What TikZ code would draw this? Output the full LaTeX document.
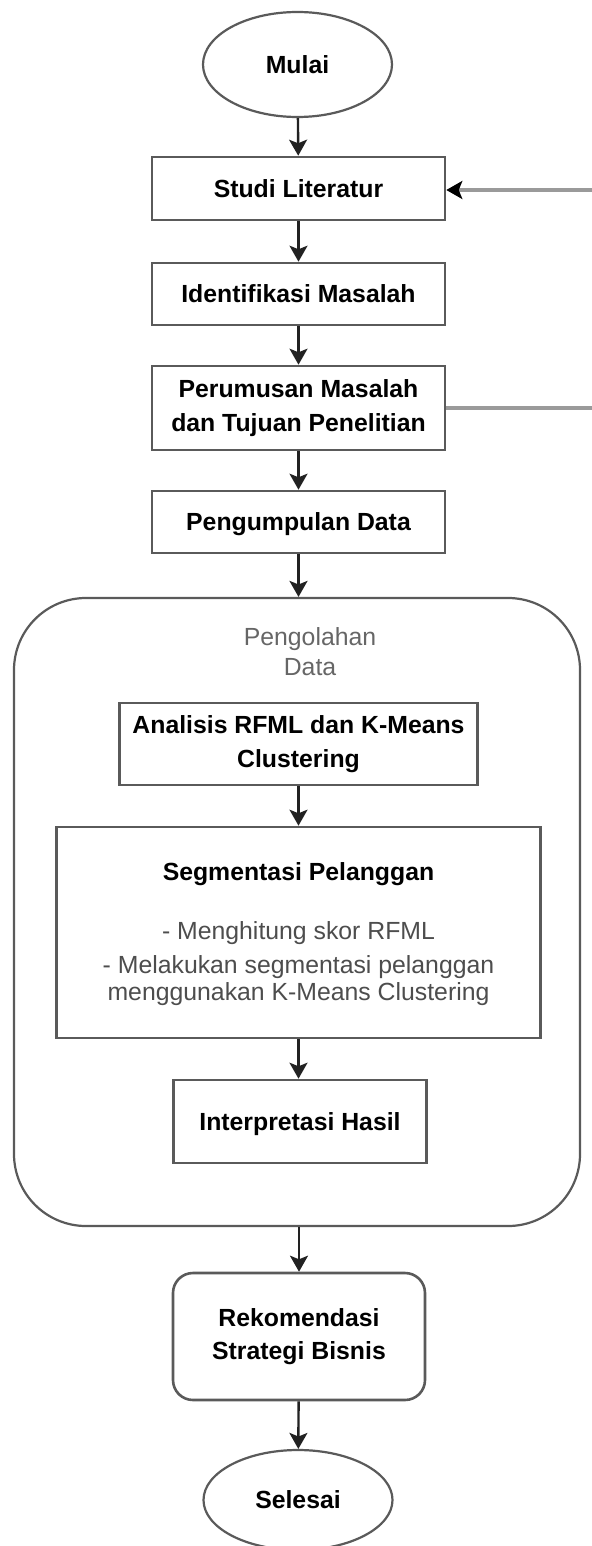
\documentclass[tikz,border=0pt]{standalone}
\usepackage{fontspec}
\setmainfont{Liberation Sans}
\usetikzlibrary{shapes.geometric,arrows.meta}
\definecolor{bord}{HTML}{5A5A5A}
\definecolor{arr}{HTML}{222222}
\definecolor{fbc}{HTML}{9A9A9A}
\definecolor{lbl}{HTML}{666666}
\definecolor{bul}{HTML}{4D4D4D}
\begin{document}
\begin{tikzpicture}[x=0.5pt,y=-0.5pt,
  bfont/.style={font=\fontsize{12.4}{16.75}\selectfont\bfseries},
  boxbase/.style={draw=bord, line width=1.3pt, fill=white, inner sep=0pt, align=center, bfont},
  box/.style={boxbase, text height=8.9pt, text depth=0pt},
  mbox/.style={boxbase},
  term/.style={ellipse, draw=bord, line width=1.1pt, fill=white, inner sep=0pt,
    minimum width=94.5pt, minimum height=52.5pt, text height=8.9pt, text depth=0pt, bfont},
  tip/.style={-{Stealth[length=8pt,width=9pt,inset=1.8pt]}},
  flow/.style={draw=arr, line width=1.2pt, tip},
  fbline/.style={draw=fbc, line width=1.8pt},
  plain/.style={inner sep=0pt, anchor=base, font=\fontsize{12.4}{15}\selectfont}
]
\useasboundingbox (0,0) rectangle (592,1546);

% container
\node[draw=bord, line width=1.1pt, rounded corners=36pt, minimum width=283pt, minimum height=314pt, inner sep=0pt] (cont) at (297,912) {};
\node[inner sep=0pt, align=center, text=lbl, font=\fontsize{12.4}{15}\selectfont] (lab) at (310,652) {Pengolahan\\Data};

\node[term] (mulai) at (297.5,64.5) {Mulai};
\node[box, minimum width=146.5pt, minimum height=31.5pt] (studi) at (298.5,188.5) {Studi Literatur};
\node[box, minimum width=146.5pt, minimum height=31pt] (ident) at (298.5,294) {Identifikasi Masalah};
\node[mbox, minimum width=146.5pt, minimum height=42pt] (rumus) at (298.5,408) {Perumusan Masalah\\dan Tujuan Penelitian};
\node[box, minimum width=146.5pt, minimum height=31pt] (kumpul) at (298.5,522) {Pengumpulan Data};

\node[mbox, minimum width=179pt, minimum height=41pt] (anal) at (298.5,744) {Analisis RFML dan K-Means\\Clustering};
\node[box, minimum width=242pt, minimum height=105.5pt] (seg) at (298.5,932.5) {};
\node[plain, bfont] (segt) at (298.5,880) {Segmentasi Pelanggan};
\node[plain, text=bul] (segb1) at (298.5,939) {- Menghitung skor RFML};
\node[plain, text=bul] (segb2) at (298.5,973) {- Melakukan segmentasi pelanggan};
\node[plain, text=bul] (segb3) at (298.5,1000) {menggunakan K-Means Clustering};
\node[box, minimum width=126.5pt, minimum height=41.5pt] (interp) at (300,1121.5) {Interpretasi Hasil};

\node[mbox, rounded corners=10pt, minimum width=126pt, minimum height=63.5pt] (rekom) at (299,1336.5) {Rekomendasi\\Strategi Bisnis};
\node[term, minimum height=50pt] (selesai) at (298,1500) {Selesai};

% main flow
\draw[flow] (mulai) -- (studi);
\draw[flow] (studi) -- (ident);
\draw[flow] (ident) -- (rumus);
\draw[flow] (rumus) -- (kumpul);
\draw[flow] (kumpul.south) -- (kumpul.south |- cont.north);
\draw[flow] (anal) -- (seg);
\draw[flow] (seg.south) -- (seg.south |- interp.north);
\draw[flow] (rekom.north |- cont.south) -- (rekom.north);
\draw[flow] (rekom) -- (selesai);

% feedback lines leaving the picture
\coordinate (fbA) at (592,190);
\coordinate (fbB) at (592,408);
\draw[fbline, -{Stealth[length=8pt,width=9pt,inset=1.8pt,color=black]}] (fbA) -- (studi.east |- fbA);
\draw[fbline] (rumus.east) -- (rumus.east -| fbB);
\end{tikzpicture}
\end{document}
